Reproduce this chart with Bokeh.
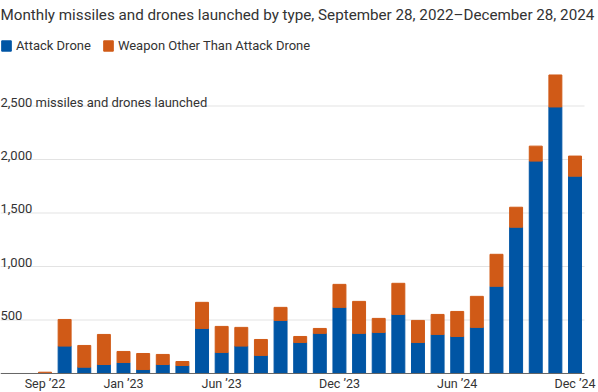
from bokeh.plotting import figure
from bokeh.models import ColumnDataSource, Range1d, Legend, LegendItem, Label
from bokeh.core.properties import value
from bokeh.embed import file_html
from bokeh.resources import INLINE

# ---- data ----
months = ["Sep ’22", "Oct ’22", "Nov ’22", "Dec ’22",
          "Jan ’23", "Feb ’23", "Mar ’23", "Apr ’23", "May ’23", "Jun ’23",
          "Jul ’23", "Aug ’23", "Sep ’23", "Oct ’23", "Nov ’23", "Dec ’23",
          "Jan ’24", "Feb ’24", "Mar ’24", "Apr ’24", "May ’24", "Jun ’24",
          "Jul ’24", "Aug ’24", "Sep ’24", "Oct ’24", "Nov ’24", "Dec ’24"]
attack_drone = [0, 256, 59, 84, 103, 37, 84, 75, 421, 197, 256, 169, 496, 290,
                375, 618, 375, 384, 552, 290, 365, 346, 431, 815, 1367, 1985,
                2491, 1844]
other_weapon = [12, 249, 203, 281, 103, 150, 94, 37, 244, 243, 175, 149, 122,
                56, 46, 215, 299, 131, 291, 206, 187, 234, 290, 299, 187, 140,
                299, 188]
series_names = ["Attack Drone", "Weapon Other Than Attack Drone"]
x_tick_labels = ["Sep ’22", "Jan ’23", "Jun ’23", "Dec ’23", "Jun ’24", "Dec ’24"]
y_tick_values = [500, 1000, 1500, 2000, 2500]
y_tick_labels = ["500", "1,000", "1,500", "2,000", "2,500 missiles and drones launched"]
title_text = "Monthly missiles and drones launched by type, September 28, 2022–December 28, 2024"

# ---- style / layout ----
FONT = "Roboto"
BLUE = "#0055a4"
ORANGE = "#d05a17"
TEXT = "#333333"
GRID = "#e3e3e3"
AXIS = "#666666"
W, H = 598, 392
X_START, X_END = -2.267, 28.197      # frame spans the whole canvas
GRID_END = 27.484                    # grid/baseline stop short of the right edge
Y_START, Y_END = -177.6, 3486.0      # room below zero for the month labels

src = ColumnDataSource(dict(
    x=list(range(len(months))),
    month=months,
    drone=attack_drone,
    other=other_weapon,
))

p = figure(width=W, height=H,
           x_range=Range1d(X_START, X_END), y_range=Range1d(Y_START, Y_END),
           output_backend="svg", toolbar_location=None, title=None,
           x_axis_location=None, y_axis_location=None,
           min_border_left=0, min_border_right=0,
           min_border_top=0, min_border_bottom=0)
p.outline_line_color = None
p.background_fill_color = "white"
p.border_fill_color = "white"
p.xgrid.visible = False
p.ygrid.visible = False

# horizontal grid lines at the y ticks
gsrc = ColumnDataSource(dict(y=y_tick_values))
p.segment(x0=X_START, x1=GRID_END, y0="y", y1="y", source=gsrc,
          line_color=GRID, line_width=1)

bars = p.vbar_stack(["drone", "other"], x="x", width=0.66,
                    color=[BLUE, ORANGE], source=src)

# baseline
p.segment(x0=X_START, x1=GRID_END, y0=0, y1=0, line_color=AXIS, line_width=1)

# y tick labels (left aligned, sitting on the grid lines)
ysrc = ColumnDataSource(dict(y=y_tick_values, text=y_tick_labels))
p.text(x=X_START, y="y", text="text", source=ysrc,
       text_font=value(FONT), text_font_size="13px", text_color=TEXT,
       text_align="left", text_baseline="alphabetic", y_offset=-4)

# x tick labels under the baseline
xsrc = ColumnDataSource(dict(x=[months.index(m) for m in x_tick_labels],
                             text=x_tick_labels))
p.text(x="x", y=0, text="text", source=xsrc,
       text_font=value(FONT), text_font_size="12.5px", text_color=TEXT,
       text_align="center", text_baseline="alphabetic", y_offset=10)

# title (screen units, measured from the frame's bottom-left)
p.add_layout(Label(x=0, y=H - 14, x_units="screen", y_units="screen",
                   text=title_text, text_font=FONT, text_font_size="15.2px",
                   text_color=TEXT, text_baseline="alphabetic"))

# legend
legend = Legend(items=[LegendItem(label=series_names[0], renderers=[bars[0]]),
                       LegendItem(label=series_names[1], renderers=[bars[1]])],
                orientation="horizontal", location=(0, H - 53),
                border_line_color=None, background_fill_alpha=0,
                padding=0, margin=0, spacing=11,
                glyph_width=12, glyph_height=13, label_height=13,
                label_standoff=4,
                label_text_font=FONT, label_text_font_size="13px",
                label_text_color=TEXT)
p.add_layout(legend)

open("out.html", "w").write(file_html(p, INLINE))
